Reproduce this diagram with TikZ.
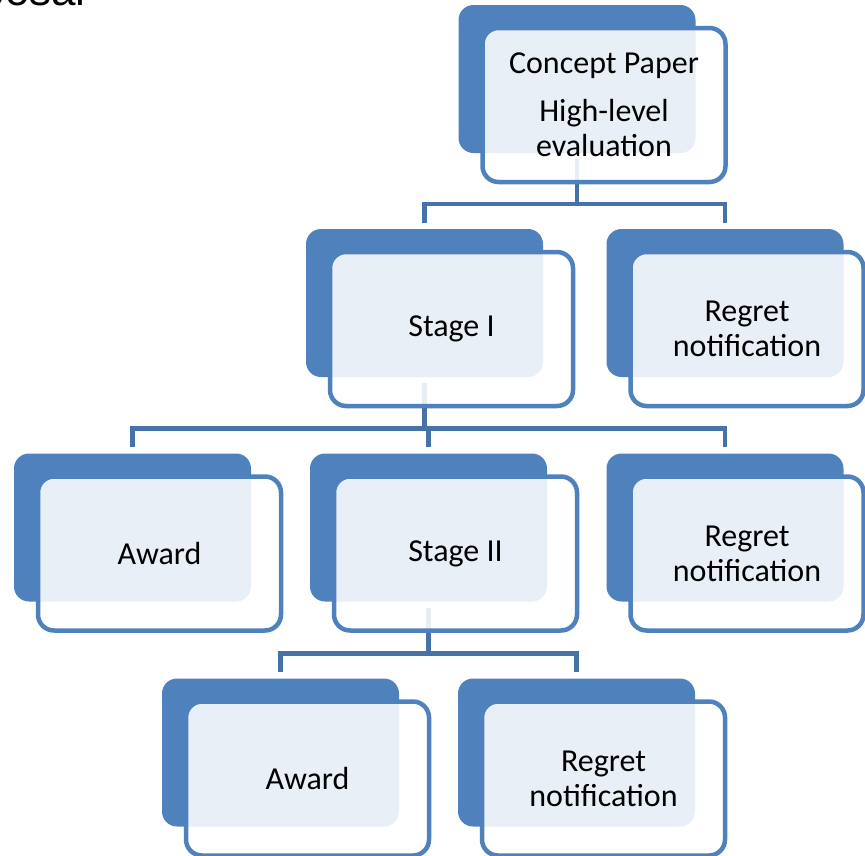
\documentclass[tikz,border=0pt]{standalone}
\usepackage{fontspec}
\setmainfont{Carlito}
\newfontfamily\titlefont{Liberation Sans}
\usepackage{tikz}
\usetikzlibrary{positioning}
\definecolor{boxblue}{RGB}{79,129,189}
\definecolor{linkblue}{RGB}{69,114,167}

\begin{document}
\begin{tikzpicture}[x=1pt, y=-1pt,
    backbox/.style={fill=boxblue, rounded corners=15pt, minimum width=237pt, minimum height=148pt, inner sep=0pt},
    frontbox/.style={draw=boxblue, line width=4.5pt, fill=white, fill opacity=0.875, text opacity=1,
        rounded corners=16pt, minimum width=243pt, minimum height=154pt, inner sep=0pt,
        xshift=27pt, yshift=-26pt, align=center, font=\fontsize{32}{35}\selectfont},
    link/.style={draw=linkblue, line width=4.5pt}]
    \useasboundingbox (0,0) rectangle (865,855);
    \clip (0,0) rectangle (865,855);

    % slide title, cut off at the top
    \node[font=\titlefont\fontsize{44}{50}\selectfont, anchor=base east, inner sep=0pt] (title) at (86,5.5) {Proposal};

    % Back panels
    \foreach \n/\x/\y in {concept/577/79, stageone/424.5/303, regretone/725/303,
                          awardone/132.5/527.5, stagetwo/428.5/527.5, regrettwo/725/527.5,
                          awardtwo/280.5/752.5, regretthree/576.5/752.5} {
        \node[backbox] (\n-bg) at (\x,\y) {};
    }

    % Connectors
    \draw[link] ([yshift=-6pt]concept-bg.south) -- ++(0,45);
    \draw[link] ([yshift=6pt]stageone-bg.north) -- ++(0,-19) -| ([yshift=6pt]regretone-bg.north);

    \draw[link] ([yshift=-6pt]stageone-bg.south) -- ++(0,45.5);
    \draw[link] ([yshift=6pt]awardone-bg.north) -- ++(0,-19) -| ([yshift=6pt]regrettwo-bg.north);
    \draw[link] ([yshift=6pt]stagetwo-bg.north) -- ++(0,-19);

    \draw[link] ([yshift=-6pt]stagetwo-bg.south) -- ++(0,45.5);
    \draw[link] ([yshift=6pt]awardtwo-bg.north) -- ++(0,-19) -| ([yshift=6pt]regretthree-bg.north);

    % Front panels with text
    \node[frontbox] (concept) at (concept-bg) {Concept Paper\\[13pt]High-level\\evaluation};
    \node[frontbox] (stageone) at (stageone-bg) {Stage I};
    \node[frontbox, minimum width=233pt, xshift=-5pt] (regretone) at (regretone-bg) {Regret\\notification};
    \node[frontbox] (awardone) at (awardone-bg) {Award};
    \node[frontbox] (stagetwo) at (stagetwo-bg) {Stage II};
    \node[frontbox, minimum width=233pt, xshift=-5pt] (regrettwo) at (regrettwo-bg) {Regret\\notification};
    \node[frontbox] (awardtwo) at (awardtwo-bg) {Award};
    \node[frontbox] (regretthree) at (regretthree-bg) {Regret\\notification};
\end{tikzpicture}
\end{document}
